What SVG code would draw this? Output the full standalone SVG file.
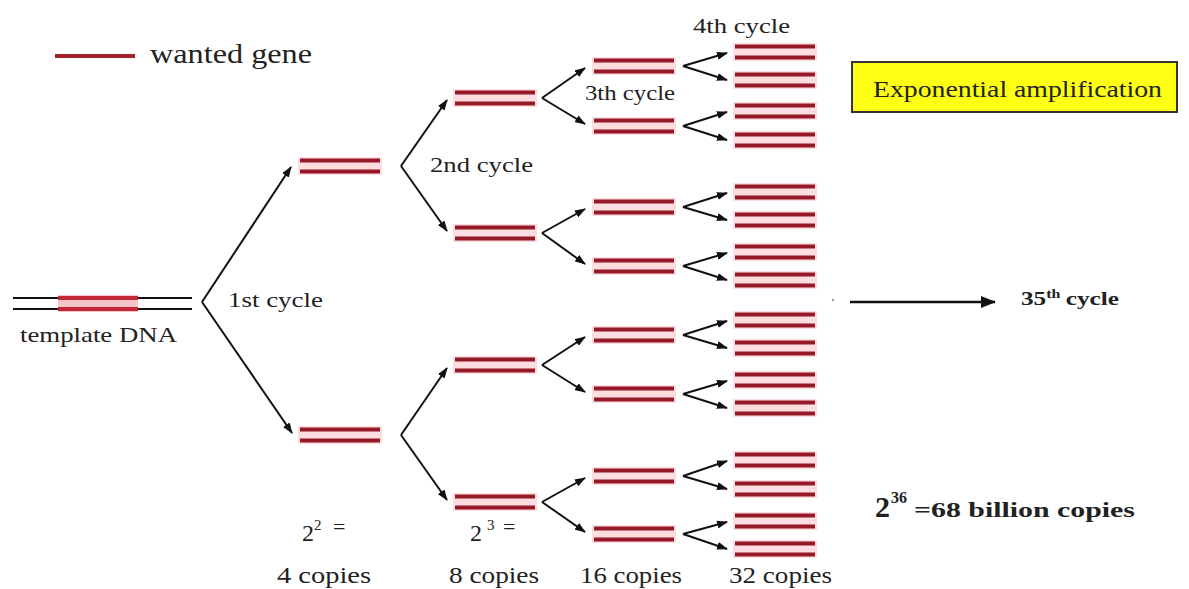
<svg xmlns="http://www.w3.org/2000/svg" xmlns:xlink="http://www.w3.org/1999/xlink" width="1189" height="589" viewBox="0 0 1189 589">
<style>
  text { font-family: "Liberation Serif", "Times New Roman", serif; fill: #222; }
  .lbl { font-size: 22px; }
  .cp { font-size: 24px; }
  .b { font-weight: bold; }
  .red { stroke: #961927; stroke-width: 4; }
  .halo { fill: #fddde0; }
  .arr { stroke: #111; stroke-width: 2; fill: none; marker-end: url(#ah); }
</style>
<defs>
  <marker id="ah" markerUnits="userSpaceOnUse" markerWidth="11" markerHeight="8" refX="10" refY="4" orient="auto">
    <path d="M0,0 L11,4 L0,8 z" fill="#111"/>
  </marker>
  <marker id="ahBig" markerUnits="userSpaceOnUse" markerWidth="15" markerHeight="12" refX="14" refY="6" orient="auto">
    <path d="M0,0 L15,6 L0,12 z" fill="#111"/>
  </marker>
  <g id="pair">
    <rect class="halo" x="-2" y="-9" width="84" height="18"/>
    <line class="red" x1="0" y1="-5.5" x2="80" y2="-5.5"/>
    <line class="red" x1="0" y1="5.5" x2="80" y2="5.5"/>
  </g>
</defs>
<rect width="1189" height="589" fill="#ffffff"/>

<g id="legend">
  <line x1="55" y1="56" x2="135" y2="56" stroke="#a3202e" stroke-width="4"/>
  <text x="150" y="63" font-size="28" textLength="162" lengthAdjust="spacingAndGlyphs">wanted gene</text>
</g>

<g id="template">
  <rect x="58" y="295" width="80" height="17" fill="#f6c3c9"/>
  <line x1="13" y1="298" x2="192" y2="298" stroke="#111" stroke-width="2"/>
  <line x1="13" y1="309" x2="192" y2="309" stroke="#111" stroke-width="2"/>
  <line x1="58" y1="298" x2="138" y2="298" stroke="#c0283a" stroke-width="4"/>
  <line x1="58" y1="309" x2="138" y2="309" stroke="#c0283a" stroke-width="4"/>
  <text class="lbl" x="20" y="342" textLength="157" lengthAdjust="spacingAndGlyphs">template DNA</text>
</g>

<g id="gen1">
  <use xlink:href="#pair" x="300" y="166"/>
  <use xlink:href="#pair" x="300" y="435"/>
</g>
<g id="gen2">
  <use xlink:href="#pair" x="455" y="98"/>
  <use xlink:href="#pair" x="455" y="233"/>
  <use xlink:href="#pair" x="455" y="365"/>
  <use xlink:href="#pair" x="455" y="502"/>
</g>
<g id="gen3">
  <use xlink:href="#pair" x="594" y="66"/>
  <use xlink:href="#pair" x="594" y="126"/>
  <use xlink:href="#pair" x="594" y="207"/>
  <use xlink:href="#pair" x="594" y="266"/>
  <use xlink:href="#pair" x="594" y="335"/>
  <use xlink:href="#pair" x="594" y="394"/>
  <use xlink:href="#pair" x="594" y="476"/>
  <use xlink:href="#pair" x="594" y="534"/>
</g>
<g id="gen4">
  <use xlink:href="#pair" x="735" y="52"/>
  <use xlink:href="#pair" x="735" y="80"/>
  <use xlink:href="#pair" x="735" y="111"/>
  <use xlink:href="#pair" x="735" y="140"/>
  <use xlink:href="#pair" x="735" y="192"/>
  <use xlink:href="#pair" x="735" y="220"/>
  <use xlink:href="#pair" x="735" y="252"/>
  <use xlink:href="#pair" x="735" y="280"/>
  <use xlink:href="#pair" x="735" y="320"/>
  <use xlink:href="#pair" x="735" y="348"/>
  <use xlink:href="#pair" x="735" y="380"/>
  <use xlink:href="#pair" x="735" y="408"/>
  <use xlink:href="#pair" x="735" y="460"/>
  <use xlink:href="#pair" x="735" y="489"/>
  <use xlink:href="#pair" x="735" y="521"/>
  <use xlink:href="#pair" x="735" y="549"/>
</g>

<g id="connectors">
  <path class="arr" d="M202,302 L291,167"/>
  <path class="arr" d="M202,302 L292,433"/>
  <path class="arr" d="M401,166 L447,100"/>
  <path class="arr" d="M401,166 L447,231"/>
  <path class="arr" d="M401,435 L447,368"/>
  <path class="arr" d="M401,435 L447,500"/>
  <path class="arr" d="M542,98 L585,68"/>
  <path class="arr" d="M542,98 L585,124"/>
  <path class="arr" d="M542,233 L585,209"/>
  <path class="arr" d="M542,233 L585,264"/>
  <path class="arr" d="M542,365 L585,337"/>
  <path class="arr" d="M542,365 L585,392"/>
  <path class="arr" d="M542,502 L585,478"/>
  <path class="arr" d="M542,502 L585,532"/>
  <path class="arr" d="M683,66 L727,53"/>
  <path class="arr" d="M683,66 L727,80"/>
  <path class="arr" d="M683,126 L727,112"/>
  <path class="arr" d="M683,126 L727,140"/>
  <path class="arr" d="M683,207 L727,193"/>
  <path class="arr" d="M683,207 L727,220"/>
  <path class="arr" d="M683,266 L727,253"/>
  <path class="arr" d="M683,266 L727,280"/>
  <path class="arr" d="M683,335 L727,321"/>
  <path class="arr" d="M683,335 L727,348"/>
  <path class="arr" d="M683,394 L727,381"/>
  <path class="arr" d="M683,394 L727,408"/>
  <path class="arr" d="M683,476 L727,461"/>
  <path class="arr" d="M683,476 L727,489"/>
  <path class="arr" d="M683,534 L727,522"/>
  <path class="arr" d="M683,534 L727,549"/>
  <path d="M850,302 L995,302" stroke="#111" stroke-width="2.5" fill="none" marker-end="url(#ahBig)"/>
  <circle cx="833" cy="300" r="1.2" fill="#999"/>
</g>

<g id="cycle-labels">
  <text class="lbl" x="228" y="307" textLength="95" lengthAdjust="spacingAndGlyphs">1st cycle</text>
  <text class="lbl" x="430" y="172" textLength="103" lengthAdjust="spacingAndGlyphs">2nd cycle</text>
  <text class="lbl" x="585" y="100" textLength="90" lengthAdjust="spacingAndGlyphs">3th cycle</text>
  <text class="lbl" x="693" y="33" textLength="97" lengthAdjust="spacingAndGlyphs">4th cycle</text>
</g>

<g id="exp-box">
  <rect x="852" y="62" width="325" height="50" fill="#ffff14" stroke="#333" stroke-width="2"/>
  <text x="873" y="97" font-size="24" fill="#2a2410" textLength="289" lengthAdjust="spacingAndGlyphs">Exponential amplification</text>
</g>

<g id="cycle35">
  <text class="b" x="1021" y="305" font-size="19" textLength="98" lengthAdjust="spacingAndGlyphs">35<tspan font-size="12" dy="-7">th</tspan><tspan dy="7" dx="4">cycle</tspan></text>
</g>

<g id="total">
  <text class="b" x="875" y="517" font-size="30">2</text>
  <text class="b" x="891" y="503" font-size="16">36</text>
  <text class="b" x="914" y="517" font-size="22" textLength="221" lengthAdjust="spacingAndGlyphs">=68 billion  copies</text>
</g>

<g id="counts">
  <text x="302" y="541" font-size="24">2</text>
  <text x="314" y="530" font-size="15">2</text>
  <text class="lbl" x="333" y="534">=</text>
  <text class="cp" x="277" y="583" textLength="94" lengthAdjust="spacingAndGlyphs">4 copies</text>
  <text x="470" y="541" font-size="24">2</text>
  <text x="487" y="530" font-size="15">3</text>
  <text class="lbl" x="503" y="534">=</text>
  <text class="cp" x="449" y="583" textLength="90" lengthAdjust="spacingAndGlyphs">8 copies</text>
  <text class="cp" x="580" y="583" textLength="102" lengthAdjust="spacingAndGlyphs">16 copies</text>
  <text class="cp" x="729" y="583" textLength="103" lengthAdjust="spacingAndGlyphs">32 copies</text>
</g>
</svg>
